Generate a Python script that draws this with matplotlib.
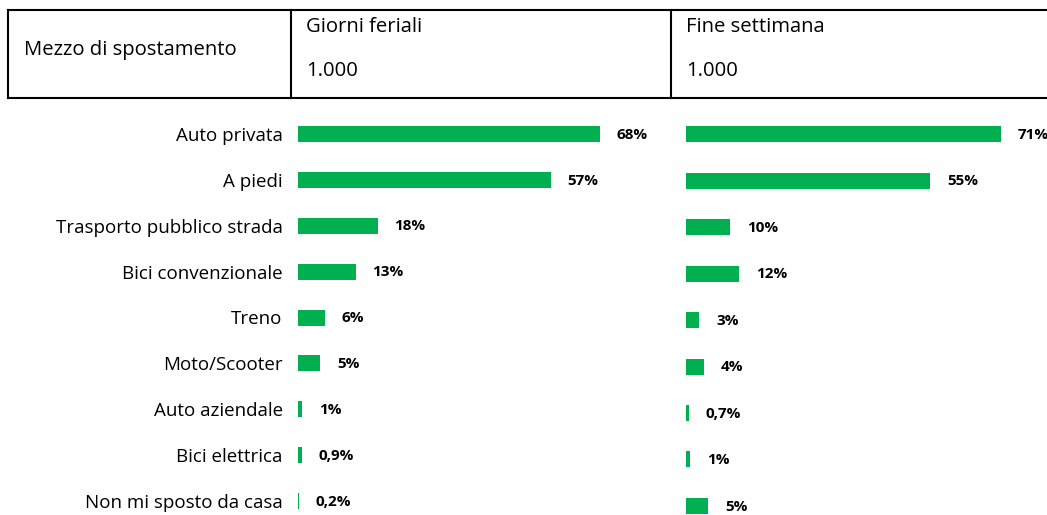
import matplotlib.pyplot as plt
from matplotlib.lines import Line2D

plt.rcParams['font.family'] = ['Open Sans', 'DejaVu Sans']

# Data
categories = ['Auto privata', 'A piedi', 'Trasporto pubblico strada', 'Bici convenzionale',
              'Treno', 'Moto/Scooter', 'Auto aziendale', 'Bici elettrica', 'Non mi sposto da casa']
feriali = [68, 57, 18, 13, 6, 5, 1, 0.9, 0.2]
feriali_labels = ['68%', '57%', '18%', '13%', '6%', '5%', '1%', '0,9%', '0,2%']
weekend = [71, 55, 10, 12, 3, 4, 0.7, 1, 5]
weekend_labels = ['71%', '55%', '10%', '12%', '3%', '4%', '0,7%', '1%', '5%']

header_col = 'Mezzo di spostamento'
header_left = 'Giorni feriali'
header_right = 'Fine settimana'
n_left = '1.000'
n_right = '1.000'

green = '#00B050'
W, H = 1047, 515

fig = plt.figure(figsize=(W / 100, H / 100), dpi=100)

# helper to place axes in pixel coordinates (top-left origin)
def px_axes(x0, y0, x1, y1):
    return fig.add_axes([x0 / W, 1 - y1 / H, (x1 - x0) / W, (y1 - y0) / H])

# header table drawn in pixel space
tab = fig.add_axes([0, 0, 1, 1])
tab.set_xlim(0, W)
tab.set_ylim(H, 0)
tab.axis('off')
lw = 1.5
tab.add_line(Line2D([7.5, W], [10, 10], color='black', lw=lw))
tab.add_line(Line2D([7.5, W], [98, 98], color='black', lw=lw))
tab.add_line(Line2D([7.5, 7.5], [10, 98], color='black', lw=lw))
tab.add_line(Line2D([291, 291], [10, 98], color='black', lw=lw))
tab.add_line(Line2D([671, 671], [10, 98], color='black', lw=lw))
hfs = 14.6
tab.text(24, 50, header_col, fontsize=hfs, va='center', ha='left')
tab.text(306, 27, header_left, fontsize=hfs, va='center', ha='left')
tab.text(306, 71, n_left, fontsize=hfs, va='center', ha='left')
tab.text(686, 27, header_right, fontsize=hfs, va='center', ha='left')
tab.text(686, 71, n_right, fontsize=hfs, va='center', ha='left')

scale = 4.44  # px per percent
n = len(categories)


def draw_panel(x0, x1, yc0, yc1, values, labels, dy_label, show_cats):
    step = (yc1 - yc0) / (n - 1)
    ax = px_axes(x0, yc0 - step / 2, x1, yc1 + step / 2)
    ax.barh(range(n), values, height=16 / step, color=green)
    ax.set_xlim(0, (x1 - x0) / scale)
    ax.set_ylim(n - 0.5, -0.5)
    for i, (v, lab) in enumerate(zip(values, labels)):
        ax.annotate(lab, (v, i), xytext=(12, -dy_label), textcoords='offset points',
                    fontsize=11, fontweight='bold', va='center', ha='left',
                    annotation_clip=False)
    for s in ax.spines.values():
        s.set_visible(False)
    ax.set_xticks([])
    if show_cats:
        ax.set_yticks(range(n))
        ax.set_yticklabels(categories, fontsize=13.5)
        ax.tick_params(axis='y', length=0, pad=11)
    else:
        ax.set_yticks([])
    ax.patch.set_alpha(0)
    return ax


draw_panel(298, 660, 134, 501, feriali, feriali_labels, 0.5, True)
draw_panel(686, 1040, 134, 506, weekend, weekend_labels, 0.5, False)

fig.savefig('out.png', dpi=100)
